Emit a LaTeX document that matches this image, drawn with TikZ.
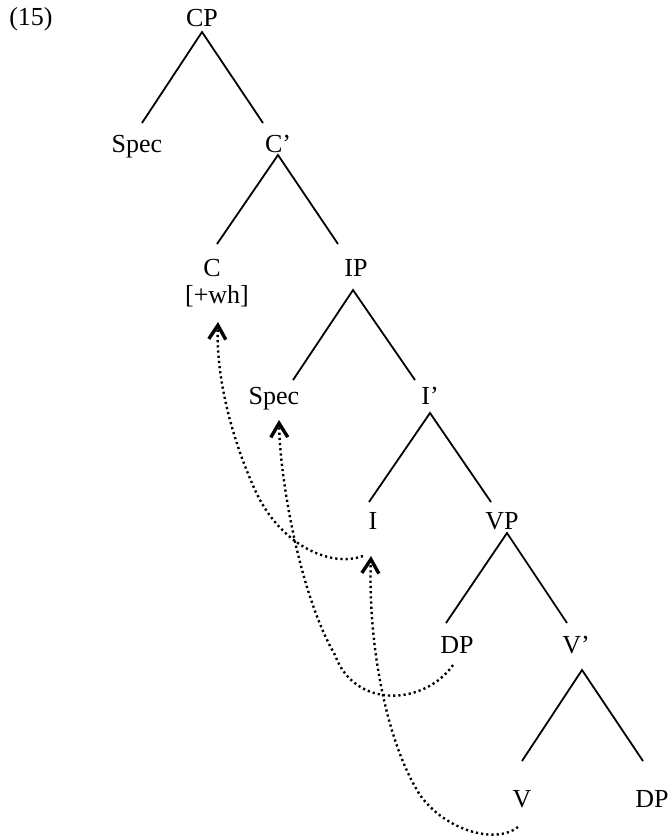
\documentclass[tikz,border=0pt]{standalone}
\usepackage{fontspec}
\setmainfont{Liberation Serif}
\usetikzlibrary{arrows.meta}
\begin{document}
\begin{tikzpicture}[x=1pt,y=-1pt,
  lbl/.style={anchor=base,inner sep=0pt,font=\fontsize{26}{30}\selectfont},
  branch/.style={line width=1.8pt},
  move/.style={line width=2.4pt,dash pattern=on 2.2pt off 3pt,
    -{Straight Barb[length=14pt,width=17pt,line width=3.4pt]}}]
\useasboundingbox (0,0) rectangle (671,839);
% labels
\node[lbl] (ex) at (31,25) {(15)};
\node[lbl] (CP) at (202,26) {CP};
\node[lbl] (SpecC) at (137,152) {Spec};
\node[lbl] (Cbar) at (278,152) {C’};
\node[lbl] (C) at (212,276) {C};
\node[lbl] (wh) at (217,303) {[+wh]};
\node[lbl] (IP) at (356,276) {IP};
\node[lbl] (SpecI) at (274,404) {Spec};
\node[lbl] (Ibar) at (430,404) {I’};
\node[lbl] (I) at (373,529) {I};
\node[lbl] (VP) at (502,529) {VP};
\node[lbl] (DPs) at (457,653) {DP};
\node[lbl] (Vbar) at (576,653) {V’};
\node[lbl] (V) at (522,807) {V};
\node[lbl] (DPo) at (652,807) {DP};
% branch points
\coordinate (aCP) at (202,32);
\coordinate (eSpecC) at (142,123);
\coordinate (eCbar) at (263,123);
\coordinate (aCbar) at (278,155);
\coordinate (eC) at (217,244);
\coordinate (eIP) at (338,244);
\coordinate (aIP) at (353,290);
\coordinate (eSpecI) at (293,380);
\coordinate (eIbar) at (415,380);
\coordinate (aIbar) at (430,413);
\coordinate (eI) at (369,502);
\coordinate (eVP) at (491,502);
\coordinate (aVP) at (507,533);
\coordinate (eDPs) at (446,623);
\coordinate (eVbar) at (567,623);
\coordinate (aVbar) at (582,670);
\coordinate (eV) at (522,761);
\coordinate (eDPo) at (643,761);
\draw[branch] (eSpecC) -- (aCP) -- (eCbar);
\draw[branch] (eC) -- (aCbar) -- (eIP);
\draw[branch] (eSpecI) -- (aIP) -- (eIbar);
\draw[branch] (eI) -- (aIbar) -- (eVP);
\draw[branch] (eDPs) -- (aVP) -- (eVbar);
\draw[branch] (eV) -- (aVbar) -- (eDPo);
% movement arrows
\coordinate (sI) at (363,556);
\coordinate (tC) at (218,322);
\coordinate (sDP) at (453,665);
\coordinate (tSpec) at (279,420);
\coordinate (sV) at (518,827);
\coordinate (tI) at (371,556);
\draw[move] (sI) .. controls (330,568) and (280,545) .. (255,490)
  .. controls (228,430) and (216,370) .. (tC);
\draw[move] (sDP) .. controls (425,705) and (355,710) .. (335,655)
  .. controls (300,595) and (280,480) .. (tSpec);
\draw[move] (sV) .. controls (495,845) and (445,830) .. (420,795)
  .. controls (385,740) and (368,640) .. (tI);
\end{tikzpicture}
\end{document}
